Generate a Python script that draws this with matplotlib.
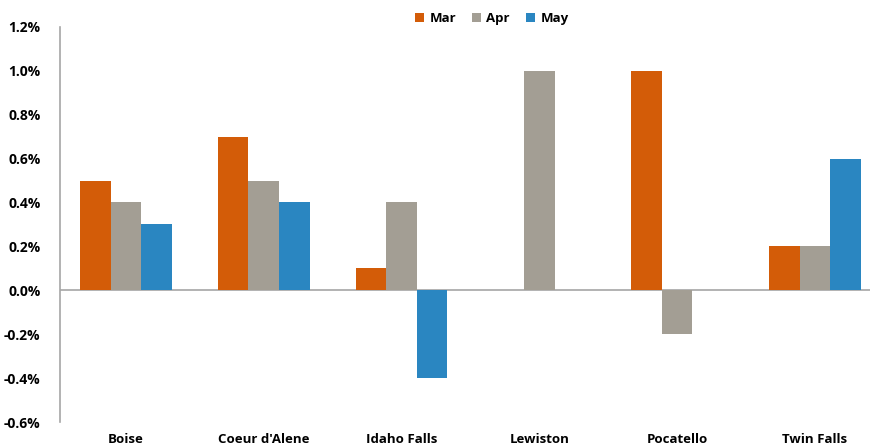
import numpy as np
import matplotlib.pyplot as plt
from matplotlib.ticker import FuncFormatter

plt.rcParams['font.family'] = ['Open Sans', 'DejaVu Sans']

cities = ['Boise', "Coeur d'Alene", 'Idaho Falls', 'Lewiston', 'Pocatello', 'Twin Falls']
mar = [0.5, 0.7, 0.1, 0.0, 1.0, 0.2]
apr = [0.4, 0.5, 0.4, 1.0, -0.2, 0.2]
may = [0.3, 0.4, -0.4, 0.0, 0.0, 0.6]
months = ['Mar', 'Apr', 'May']
colors = ['#d35c08', '#a39e94', '#2a86c1']

fig = plt.figure(figsize=(8.78, 4.48), dpi=100)
ax = fig.add_axes([0.068, 0.058, 0.923, 0.882])

x = np.arange(len(cities))
w = 0.222
for i, (vals, lab, c) in enumerate(zip([mar, apr, may], months, colors)):
    ax.bar(x + (i - 1) * w, vals, w, color=c, label=lab)

ax.axhline(0, color='#a6a6a6', lw=1.2, zorder=0)
ax.set_xlim(-0.48, 5.4)
ax.set_ylim(-0.6, 1.2)
ax.set_yticks(np.arange(-0.6, 1.21, 0.2))
ax.yaxis.set_major_formatter(FuncFormatter(lambda v, p: f'{v:.1f}%'))
ax.set_xticks(x)
ax.set_xticklabels(cities, fontweight='bold', fontsize=9.5)
for t in ax.get_yticklabels():
    t.set_fontweight('bold')
    t.set_fontsize(10)
ax.tick_params(axis='both', length=0)
ax.tick_params(axis='x', pad=8)
ax.tick_params(axis='y', pad=14)
for s in ['top', 'right', 'bottom']:
    ax.spines[s].set_visible(False)
ax.spines['left'].set_color('#a6a6a6')
ax.spines['left'].set_linewidth(1.2)

fig.legend(loc='upper center', bbox_to_anchor=(0.56, 1.0), ncol=3, frameon=False,
           prop={'weight': 'bold', 'size': 9.5}, handlelength=0.7, handleheight=0.7,
           handletextpad=0.4, columnspacing=1.2)

fig.savefig('out.png', dpi=100)
